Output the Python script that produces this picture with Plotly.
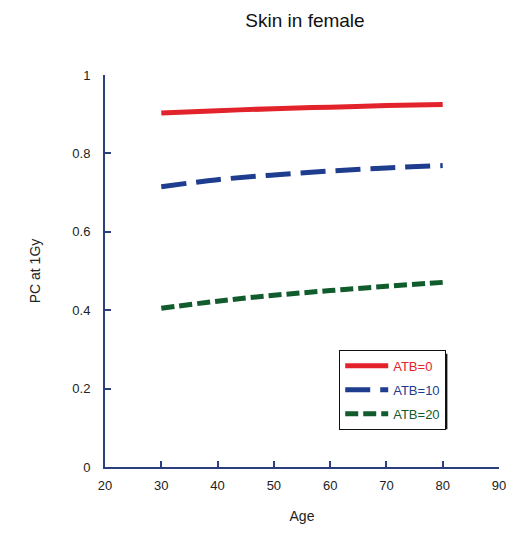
import plotly.graph_objects as go

ages = [30, 40, 50, 60, 70, 80]
atb0 = [0.903, 0.909, 0.914, 0.918, 0.922, 0.925]
atb10 = [0.715, 0.733, 0.745, 0.755, 0.763, 0.769]
atb20 = [0.405, 0.423, 0.438, 0.450, 0.461, 0.471]
names = ["ATB=0", "ATB=10", "ATB=20"]
colors = ["#e3232b", "#1e3d8f", "#115c2c"]
dashes = ["solid", "25px,10px", "13px,5px"]
x_ticks = [20, 30, 40, 50, 60, 70, 80, 90]
y_ticks = [0, 0.2, 0.4, 0.6, 0.8, 1]
y_ticktext = ["0", "0.2", "0.4", "0.6", "0.8", "1"]

W, H = 518, 534
L, R, T, B = 105, 16, 75, 64
axis_color = "#2a3f7c"

fig = go.Figure()
for name, ys, c, d in zip(names, [atb0, atb10, atb20], colors, dashes):
    fig.add_trace(go.Scatter(
        x=ages, y=ys, mode="lines", line_shape="spline",
        name=f'<span style="color:{c}">{name}</span>', legendgroup=name,
        line=dict(color=c, width=5, dash=d),
    ))

# legend geometry (pixels)
lg_x0, lg_y0, lg_x1, lg_y1 = 339, 352, 446, 428
pw, ph = W - L - R, H - T - B
lx = (lg_x0 + 2 - L) / pw
ly = (H - B - lg_y0) / ph
# shadow
fig.add_shape(type="rect", xref="paper", yref="paper",
              x0=(lg_x0 + 4 - L) / pw, x1=(lg_x1 + 4 - L) / pw,
              y0=(H - B - lg_y1 - 4) / ph, y1=(H - B - lg_y0 - 4) / ph,
              fillcolor="#111111", line=dict(width=0), layer="above")

fig.update_layout(
    width=W, height=H,
    margin=dict(l=L, r=R, t=T, b=B),
    paper_bgcolor="white", plot_bgcolor="white",
    font=dict(family="Liberation Sans, Arial, sans-serif", color="#222222", size=13),
    title=dict(text="Skin in female", font=dict(size=19, color="#111111"),
               xref="container", yref="container", x=305 / W, xanchor="center",
               y=1 - 20 / H, yanchor="middle"),
    showlegend=True,
    legend=dict(x=lx, y=ly, xanchor="left", yanchor="top",
                bgcolor="white", bordercolor="#111111", borderwidth=1,
                font=dict(size=13), tracegroupgap=4, itemwidth=43),
    xaxis=dict(range=[20, 90], tickvals=x_ticks, showgrid=False, zeroline=False,
               showline=True, linecolor=axis_color, linewidth=2,
               ticks="inside", ticklen=6, tickcolor=axis_color, tickwidth=1.5,
               ticklabelstandoff=5,
               title=dict(text="Age", font=dict(size=14), standoff=20)),
    yaxis=dict(range=[0, 1], tickvals=y_ticks, ticktext=y_ticktext, showgrid=False,
               zeroline=False, showline=True, linecolor=axis_color, linewidth=2,
               ticks="inside", ticklen=6, tickcolor=axis_color, tickwidth=1.5,
               ticklabelstandoff=10,
               title=dict(text="PC at 1Gy", font=dict(size=14), standoff=28)),
)

fig.write_html("out.html")
